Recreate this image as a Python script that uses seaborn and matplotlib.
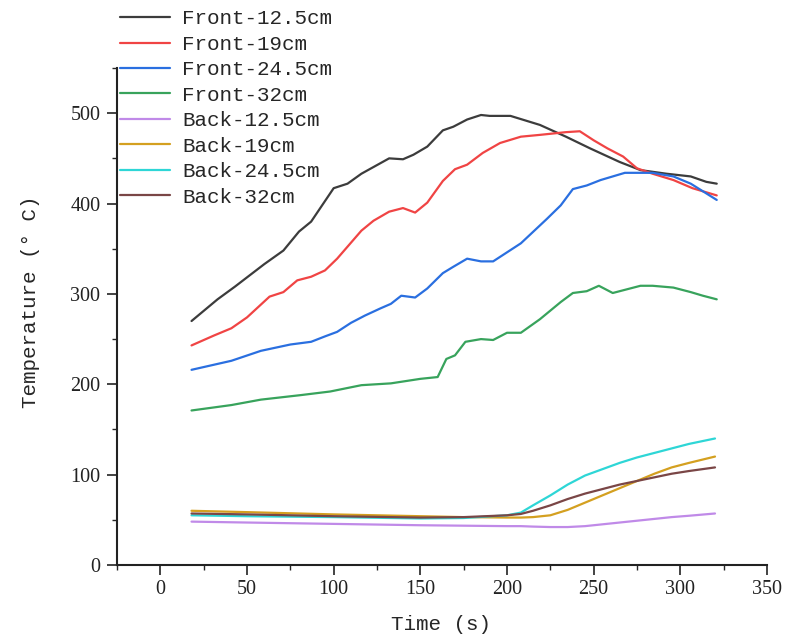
import numpy as np
import pandas as pd
import matplotlib
matplotlib.use("Agg")
import matplotlib.pyplot as plt
import seaborn as sns
from matplotlib.ticker import MultipleLocator
from matplotlib.lines import Line2D

# ---- data ----
x_f125 = [18, 33, 43, 60, 71, 80, 87, 100, 108, 116, 132, 140, 146, 154, 163, 169, 177, 185, 190, 202, 219, 234, 248, 265, 277, 292, 306, 315, 321]
y_f125 = [270, 294, 308, 333, 348, 369, 380, 417, 422, 433, 450, 449, 454, 463, 481, 485, 493, 498, 497, 497, 487, 474, 461, 446, 437, 433, 430, 424, 422]

x_f19 = [18, 31, 41, 50, 63, 71, 79, 87, 95, 102, 116, 123, 132, 140, 147, 154, 163, 170, 177, 186, 196, 208, 219, 234, 242, 250, 258, 267, 275, 284, 296, 307, 321]
y_f19 = [243, 254, 262, 274, 297, 302, 315, 319, 326, 339, 370, 381, 391, 395, 390, 401, 425, 438, 443, 456, 467, 474, 476, 479, 480, 470, 461, 452, 439, 433, 426, 417, 409]

x_f245 = [18, 41, 58, 75, 87, 95, 102, 110, 118, 127, 133, 139, 147, 154, 163, 169, 177, 185, 192, 208, 223, 231, 238, 246, 254, 261, 268, 284, 296, 306, 321]
y_f245 = [216, 226, 237, 244, 247, 253, 258, 268, 276, 284, 289, 298, 296, 306, 323, 330, 339, 336, 336, 356, 383, 398, 416, 420, 426, 430, 434, 434, 430, 422, 404]

x_f32 = [18, 41, 58, 81, 98, 116, 133, 150, 160, 165, 170, 176, 185, 192, 200, 208, 219, 231, 238, 246, 253, 261, 269, 277, 284, 296, 306, 313, 321]
y_f32 = [171, 177, 183, 188, 192, 199, 201, 206, 208, 228, 232, 247, 250, 249, 257, 257, 272, 291, 301, 303, 309, 301, 305, 309, 309, 307, 302, 298, 294]

x_back = [18, 50, 100, 150, 175, 200, 208, 215, 225, 235, 245, 255, 265, 275, 285, 295, 305, 320]
y_b125 = [48, 47, 45.5, 44, 43.5, 43, 43, 42.5, 42, 42, 43, 45, 47, 49, 51, 53, 54.5, 57]
y_b19 = [60, 58.5, 56, 54, 53, 52.5, 52.5, 53, 55, 61, 69, 77, 85, 93, 101, 108, 113, 120]
y_b245 = [55, 54, 53, 51.5, 52, 55, 58, 66, 77, 89, 99, 106, 113, 119, 124, 129, 134, 140]
y_b32 = [57, 56, 54, 52.5, 53, 55, 56.5, 60, 66, 73, 79, 84, 89, 93, 97, 101, 104, 108]

labels = ["Front-12.5cm", "Front-19cm", "Front-24.5cm", "Front-32cm",
          "Back-12.5cm", "Back-19cm", "Back-24.5cm", "Back-32cm"]
colors = ["#3c3c3c", "#f04444", "#2a6fe0", "#38a35c",
          "#c08ae8", "#d4a020", "#2ed6d6", "#7a4646"]

series = [(x_f125, y_f125), (x_f19, y_f19), (x_f245, y_f245), (x_f32, y_f32),
          (x_back, y_b125), (x_back, y_b19), (x_back, y_b245), (x_back, y_b32)]

frames = []
for lab, (xs, ys) in zip(labels, series):
    frames.append(pd.DataFrame({"Time": xs, "Temp": ys, "Series": lab}))
df = pd.concat(frames, ignore_index=True)

sns.set_theme(style="ticks")
plt.rcParams['font.family'] = ['Liberation Serif', 'DejaVu Sans']
mono = ["Liberation Mono", "DejaVu Sans"]

fig = plt.figure(figsize=(7.87, 6.39), dpi=100)
ax = fig.add_axes([117/787, 1 - 565/639, (767-117)/787, (565-68)/639])

sns.lineplot(data=df, x="Time", y="Temp", hue="Series", hue_order=labels,
             palette=dict(zip(labels, colors)), sort=False, estimator=None,
             linewidth=1.6, ax=ax, legend=False)

ax.set_xlim(-25, 350)
ax.set_ylim(0, 550)
ax.xaxis.set_major_locator(MultipleLocator(50))
ax.xaxis.set_minor_locator(MultipleLocator(25))
ax.yaxis.set_major_locator(MultipleLocator(100))
ax.yaxis.set_minor_locator(MultipleLocator(50))
ax.tick_params(which="major", direction="out", length=7, width=1.2, labelsize=14.5, colors="#222222")
ax.tick_params(axis="y", which="major", pad=5)
ax.tick_params(which="minor", direction="out", length=3.6, width=1.0)
for s in ["top", "right"]:
    ax.spines[s].set_visible(False)
for s in ["left", "bottom"]:
    ax.spines[s].set_linewidth(1.5)
    ax.spines[s].set_color("#222222")

ax.set_xlabel("Time (s)", fontsize=15, family=mono, va="center")
ax.xaxis.set_label_coords(0.4985, (565 - 625) / 497)
ax.set_ylabel("Temperature (° C)", fontsize=15, family=mono, va="center")
ax.yaxis.set_label_coords((31 - 117) / 650, (565 - 301.5) / 497)

handles = [Line2D([], [], color=c, lw=1.6) for c in colors]
fig.legend(handles, labels, loc="upper left", bbox_to_anchor=(110/787, 1 + 1/639),
           frameon=False, prop={"family": mono, "size": 15},
           handlelength=2.4, handletextpad=0.56, labelspacing=0.31, borderpad=0.0)

fig.savefig("out.png", dpi=100)
